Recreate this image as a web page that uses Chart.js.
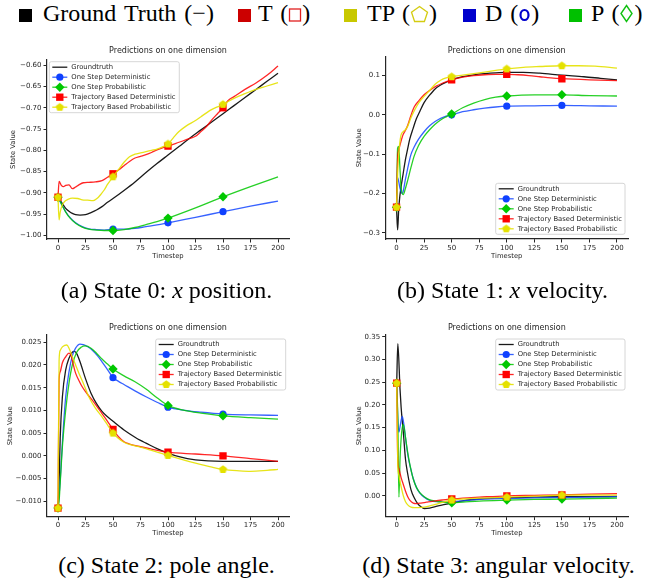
<!DOCTYPE html>
<html>
<head>
<meta charset="utf-8">
<script src="https://cdn.jsdelivr.net/npm/chart.js@4.4.1/dist/chart.umd.min.js"></script>
<style>
  body { margin: 0; width: 661px; height: 586px; background: #fff; position: relative; overflow: hidden;
         font-family: "Liberation Serif", "Times New Roman", serif; color: #000; }
  canvas { position: absolute; }
  .sw { position: absolute; top: 9px; width: 13px; height: 13px; }
  .key { position: absolute; top: 0; font-size: 24px; line-height: 26px; white-space: nowrap; word-spacing: 2px; }
  .key svg { vertical-align: -2px; }
  .cap { position: absolute; width: 331px; text-align: center; font-size: 24px; line-height: 26px; white-space: nowrap; }
</style>
</head>
<body>

<!-- key for the whole figure -->
<div class="sw" style="left:19px;background:#000"></div>
<div class="key" style="left:43px">Ground Truth (−)</div>
<div class="sw" style="left:238px;background:#cc0000"></div>
<div class="key" style="left:258px">T (<svg width="14" height="16"><rect x="1.5" y="2" width="11" height="12" fill="none" stroke="#e02020" stroke-width="1.3"/></svg>)</div>
<div class="sw" style="left:344px;background:#c8c800"></div>
<div class="key" style="left:367px">TP (<svg width="19" height="18"><polygon points="9.5,1.5 17.5,7.3 14.4,16.5 4.6,16.5 1.5,7.3" fill="none" stroke="#d4cc10" stroke-width="1.3"/></svg>)</div>
<div class="sw" style="left:463px;background:#0000cc"></div>
<div class="key" style="left:485px">D (<svg width="13" height="16"><ellipse cx="6.5" cy="8" rx="4" ry="5" fill="none" stroke="#0000cc" stroke-width="2.2"/></svg>)</div>
<div class="sw" style="left:569px;background:#00c000"></div>
<div class="key" style="left:591px">P (<svg width="15" height="19"><polygon points="7.5,1.5 13,9.5 7.5,17.5 2,9.5" fill="none" stroke="#10c010" stroke-width="1.4"/></svg>)</div>

<canvas id="cA" width="330" height="240" style="left:0;top:40px"></canvas>
<canvas id="cB" width="331" height="240" style="left:330px;top:40px"></canvas>
<canvas id="cC" width="330" height="240" style="left:0;top:300px"></canvas>
<canvas id="cD" width="331" height="240" style="left:330px;top:300px"></canvas>

<div class="cap" style="left:1px;top:277px">(a) State 0: <i>x</i> position.</div>
<div class="cap" style="left:337px;top:277px">(b) State 1: <i>x</i> velocity.</div>
<div class="cap" style="left:1px;top:552px">(c) State 2: pole angle.</div>
<div class="cap" style="left:333px;top:552px">(d) State 3: angular velocity.</div>

<script>
// shared axis values
const stepTicks = [0, 25, 50, 75, 100, 125, 150, 175, 200];
const markerSteps = [0, 50, 100, 150];
const seriesNames = ['Groundtruth', 'One Step Deterministic', 'One Step Probabilistic',
                     'Trajectory Based Deterministic', 'Trajectory Based Probabilistic'];

// State 0: cart position, [timestep, value]
const posTicks = [-1.00, -0.95, -0.90, -0.85, -0.80, -0.75, -0.70, -0.65, -0.60];
const posTruth = [[0,-0.910],[4,-0.925],[7,-0.936],[10,-0.943],[13,-0.948],[16,-0.951],[20,-0.952],[25,-0.951],
  [30,-0.946],[35,-0.940],[40,-0.932],[45,-0.922],[50,-0.913],[60,-0.894],[70,-0.874],[80,-0.852],[90,-0.831],
  [100,-0.811],[110,-0.791],[120,-0.771],[130,-0.752],[140,-0.733],[150,-0.714],[160,-0.695],[170,-0.676],
  [180,-0.657],[190,-0.638],[200,-0.619]];
const posOneDet = [[0,-0.910],[3,-0.925],[7,-0.944],[11,-0.958],[16,-0.970],[22,-0.979],[28,-0.984],[35,-0.986],
  [42,-0.987],[50,-0.985],[60,-0.985],[70,-0.983],[80,-0.979],[90,-0.975],[100,-0.970],[125,-0.957],
  [150,-0.944],[175,-0.931],[200,-0.919]];
const posOneProb = [[0,-0.910],[3,-0.925],[7,-0.945],[11,-0.959],[16,-0.971],[22,-0.980],[28,-0.985],[35,-0.987],
  [42,-0.988],[50,-0.988],[60,-0.986],[70,-0.981],[80,-0.974],[90,-0.967],[100,-0.959],[125,-0.935],
  [150,-0.909],[175,-0.885],[200,-0.862]];
const posTrajDet = [[0,-0.910],[1,-0.873],[3,-0.882],[5,-0.885],[7,-0.882],[10,-0.881],[13,-0.890],[16,-0.886],
  [19,-0.881],[23,-0.876],[28,-0.875],[34,-0.874],[40,-0.871],[45,-0.863],[50,-0.855],[55,-0.846],[60,-0.836],
  [65,-0.826],[70,-0.818],[75,-0.814],[80,-0.810],[85,-0.805],[90,-0.799],[95,-0.794],[100,-0.790],[110,-0.781],
  [120,-0.772],[125,-0.767],[130,-0.756],[135,-0.744],[140,-0.728],[145,-0.714],[150,-0.700],[153,-0.688],
  [156,-0.680],[160,-0.674],[170,-0.657],[180,-0.642],[190,-0.624],[200,-0.602]];
const posTrajProb = [[0,-0.910],[1,-0.963],[2,-0.945],[4,-0.928],[6,-0.920],[9,-0.915],[13,-0.912],[18,-0.913],
  [22,-0.916],[27,-0.917],[32,-0.918],[36,-0.912],[39,-0.903],[42,-0.893],[45,-0.880],[50,-0.862],[55,-0.845],
  [60,-0.828],[65,-0.815],[70,-0.809],[75,-0.806],[80,-0.803],[85,-0.800],[90,-0.797],[95,-0.792],[100,-0.785],
  [105,-0.770],[110,-0.756],[117,-0.742],[125,-0.730],[130,-0.721],[135,-0.712],[140,-0.704],[145,-0.698],
  [150,-0.692],[160,-0.678],[170,-0.667],[180,-0.657],[190,-0.649],[200,-0.641]];

// State 1: cart velocity
const velTicks = [-0.3, -0.2, -0.1, 0.0, 0.1];
const velTruth = [[0,-0.235],[1,-0.293],[2,-0.240],[3,-0.207],[4,-0.186],[6,-0.150],[8,-0.115],[10,-0.088],
  [12,-0.062],[15,-0.035],[18,-0.010],[21,0.008],[25,0.031],[30,0.050],[35,0.066],[40,0.076],[45,0.083],
  [50,0.089],[60,0.097],[70,0.102],[80,0.105],[90,0.107],[100,0.108],[115,0.108],[130,0.106],[150,0.101],
  [170,0.097],[185,0.093],[200,0.089]];
const velOneDet = [[0,-0.235],[1,-0.160],[2,-0.170],[3,-0.185],[5,-0.200],[6,-0.195],[8,-0.165],[10,-0.138],
  [13,-0.102],[16,-0.082],[20,-0.062],[25,-0.043],[30,-0.028],[35,-0.017],[40,-0.009],[45,-0.003],[50,0.000],
  [60,0.008],[70,0.013],[80,0.017],[90,0.020],[100,0.022],[125,0.023],[150,0.024],[175,0.023],[200,0.022]];
const velOneProb = [[0,-0.235],[1,-0.085],[2,-0.080],[3,-0.130],[4,-0.180],[6,-0.203],[8,-0.188],[10,-0.168],
  [13,-0.135],[16,-0.105],[20,-0.078],[25,-0.055],[30,-0.038],[35,-0.024],[40,-0.013],[45,-0.005],[50,0.002],
  [60,0.018],[70,0.030],[80,0.039],[90,0.045],[100,0.048],[125,0.051],[150,0.051],[175,0.049],[200,0.048]];
const velTrajDet = [[0,-0.235],[1,-0.110],[2,-0.090],[4,-0.068],[6,-0.050],[8,-0.040],[10,-0.028],[13,-0.002],
  [16,0.020],[20,0.035],[25,0.051],[30,0.062],[36,0.073],[42,0.081],[50,0.089],[60,0.096],[70,0.100],
  [80,0.102],[90,0.103],[100,0.103],[110,0.102],[120,0.100],[130,0.097],[140,0.094],[150,0.092],[175,0.089],
  [200,0.087]];
const velTrajProb = [[0,-0.235],[1,-0.150],[2,-0.100],[4,-0.052],[6,-0.043],[8,-0.038],[10,-0.030],[13,-0.008],
  [16,0.010],[20,0.030],[25,0.047],[30,0.062],[35,0.078],[40,0.088],[45,0.094],[50,0.097],[60,0.101],
  [70,0.105],[80,0.109],[90,0.113],[100,0.117],[115,0.121],[130,0.123],[150,0.125],[165,0.125],[180,0.124],
  [200,0.119]];

// State 2: pole angle
const angTicks = [-0.010, -0.005, 0.000, 0.005, 0.010, 0.015, 0.020, 0.025];
const angTruth = [[0,-0.0115],[1,-0.0060],[2,0.0040],[4,0.0130],[7,0.0189],[10,0.0215],[13,0.0228],[15,0.0230],
  [17,0.0225],[20,0.0207],[25,0.0170],[30,0.0138],[35,0.0115],[40,0.0098],[45,0.0086],[50,0.0076],[60,0.0057],
  [70,0.0041],[75,0.0034],[80,0.0028],[90,0.0016],[100,0.0006],[110,-0.0002],[125,-0.0009],[150,-0.0012],
  [175,-0.0012],[200,-0.0012]];
const angOneDet = [[0,-0.0115],[2,-0.0055],[4,0.0030],[7,0.0130],[10,0.0185],[13,0.0220],[16,0.0237],[20,0.0246],
  [23,0.0245],[27,0.0240],[31,0.0233],[36,0.0220],[40,0.0207],[45,0.0190],[50,0.0172],[55,0.0164],[60,0.0157],
  [70,0.0143],[80,0.0130],[90,0.0118],[100,0.0107],[115,0.0100],[130,0.0096],[150,0.0092],[175,0.0090],
  [200,0.0089]];
const angOneProb = [[0,-0.0115],[1,-0.0100],[2,-0.0060],[4,0.0020],[7,0.0101],[10,0.0160],[13,0.0200],[17,0.0228],
  [21,0.0239],[25,0.0242],[30,0.0237],[35,0.0226],[40,0.0213],[45,0.0202],[50,0.0191],[60,0.0176],[70,0.0163],
  [80,0.0147],[90,0.0128],[100,0.0111],[115,0.0100],[130,0.0094],[150,0.0088],[175,0.0084],[200,0.0081]];
const angTrajDet = [[0,-0.0115],[1,0.0167],[2,0.0185],[4,0.0205],[7,0.0218],[10,0.0226],[12,0.0220],[14,0.0200],
  [16,0.0182],[19,0.0166],[22,0.0152],[26,0.0138],[31,0.0123],[35,0.0110],[40,0.0093],[45,0.0076],[50,0.0058],
  [55,0.0042],[60,0.0031],[65,0.0026],[75,0.0020],[85,0.0015],[100,0.0008],[125,0.0004],[150,0.0000],
  [175,-0.0006],[200,-0.0012]];
const angTrajProb = [[0,-0.0115],[1,0.0210],[2,0.0232],[4,0.0240],[6,0.0243],[8,0.0244],[10,0.0237],[13,0.0218],
  [16,0.0200],[19,0.0182],[23,0.0160],[28,0.0130],[34,0.0105],[40,0.0086],[45,0.0068],[50,0.0050],[55,0.0038],
  [60,0.0030],[65,0.0025],[75,0.0019],[85,0.0012],[100,0.0001],[110,-0.0006],[125,-0.0016],[140,-0.0025],
  [150,-0.0030],[165,-0.0033],[175,-0.0034],[190,-0.0032],[200,-0.0030]];

// State 3: pole angular velocity
const avelTicks = [0.00, 0.05, 0.10, 0.15, 0.20, 0.25, 0.30, 0.35];
const avelTruth = [[0,0.248],[1,0.335],[3,0.235],[4,0.195],[6,0.140],[8,0.080],[10,0.048],[13,0.013],[16,-0.005],
  [19,-0.017],[22,-0.024],[25,-0.028],[30,-0.027],[35,-0.024],[40,-0.021],[50,-0.016],[60,-0.011],[75,-0.007],
  [100,-0.004],[125,-0.003],[150,-0.002],[200,-0.0015]];
const avelOneDet = [[0,0.248],[1,0.170],[2,0.140],[3,0.152],[5,0.175],[6,0.165],[7,0.148],[9,0.108],[11,0.078],
  [13,0.057],[15,0.038],[18,0.018],[21,0.006],[25,-0.003],[30,-0.010],[36,-0.013],[45,-0.0135],[50,-0.013],
  [60,-0.011],[75,-0.008],[100,-0.006],[125,-0.0045],[150,-0.0037],[175,-0.0028],[200,-0.002]];
const avelOneProb = [[0,0.248],[1,0.170],[2,-0.003],[3,0.080],[4.5,0.140],[6,0.157],[8,0.128],[10,0.095],
  [12,0.068],[15,0.037],[18,0.018],[21,0.007],[25,-0.002],[30,-0.009],[36,-0.012],[42,-0.014],[50,-0.0155],
  [60,-0.014],[75,-0.0115],[100,-0.0095],[125,-0.008],[150,-0.0072],[175,-0.006],[200,-0.005]];
const avelTrajDet = [[0,0.248],[1,0.075],[2,0.060],[3,0.050],[4,0.040],[6,0.025],[8,0.010],[10,-0.002],
  [12,-0.010],[15,-0.016],[18,-0.017],[22,-0.016],[27,-0.014],[35,-0.011],[42,-0.009],[50,-0.007],[60,-0.005],
  [75,-0.003],[100,0.000],[125,0.001],[150,0.002],[175,0.0035],[200,0.005]];
const avelTrajProb = [[0,0.248],[1,0.065],[2,0.045],[3,0.032],[4,0.020],[6,0.000],[8,-0.013],[10,-0.020],
  [13,-0.025],[16,-0.026],[20,-0.026],[25,-0.025],[30,-0.022],[35,-0.019],[42,-0.014],[50,-0.0095],[60,-0.007],
  [75,-0.005],[100,-0.003],[125,-0.0005],[150,0.0015],[175,0.0018],[200,0.0015]];

// ---- look of the lines and markers ----
const INK = '#262626';
const FONT = '"DejaVu Sans", sans-serif';
Chart.defaults.font.family = FONT;

function pentagon(r, color) {
  const s = Math.ceil(2 * r + 2);
  const c = document.createElement('canvas');
  c.width = c.height = s;
  const g = c.getContext('2d');
  g.beginPath();
  for (let i = 0; i < 5; i++) {
    const a = -Math.PI / 2 + i * 2 * Math.PI / 5;
    const px = s / 2 + r * Math.cos(a), py = s / 2 + r * Math.sin(a);
    if (i) g.lineTo(px, py); else g.moveTo(px, py);
  }
  g.closePath();
  g.fillStyle = color;
  g.fill();
  return c;
}

const looks = [
  { line: 'rgba(0,0,0,0.9)', fill: '#000', style: false, r: 0 },
  { line: 'rgba(20,70,255,0.85)', fill: 'rgb(15,65,255)', style: 'circle', r: 3.6 },
  { line: 'rgba(0,200,0,0.85)', fill: 'rgb(0,200,0)', style: 'rectRot', r: 4.7 },
  { line: 'rgba(255,0,0,0.85)', fill: 'rgb(255,0,0)', style: 'rect', r: 5.2 },
  { line: 'rgba(228,225,0,0.9)', fill: 'rgb(228,225,0)', style: pentagon(4.3, 'rgb(228,225,0)'), r: 4 }
];

function fmt(v, digits) {
  return v.toFixed(digits).replace('-', '\u2212');
}

// draws a marker by hand for the legend rows
function legendMarker(ctx, look, x, y) {
  const r = look.r;
  ctx.fillStyle = look.fill;
  if (look.style === 'circle') {
    ctx.beginPath(); ctx.arc(x, y, r, 0, Math.PI * 2); ctx.fill();
  } else if (look.style === 'rect') {
    const h = r * Math.SQRT1_2;
    ctx.fillRect(x - h, y - h, 2 * h, 2 * h);
  } else if (look.style === 'rectRot') {
    ctx.beginPath();
    ctx.moveTo(x, y - r); ctx.lineTo(x + r, y); ctx.lineTo(x, y + r); ctx.lineTo(x - r, y);
    ctx.closePath(); ctx.fill();
  } else if (look.style) {
    ctx.drawImage(look.style, x - look.style.width / 2, y - look.style.height / 2);
  }
}

// title and boxed legend, drawn over the plot
const panelDecor = {
  id: 'panelDecor',
  afterDraw(chart, args, opts) {
    const ctx = chart.ctx;
    const a = chart.chartArea;
    ctx.save();
    ctx.fillStyle = INK;
    ctx.font = '8px ' + FONT;
    ctx.textAlign = 'center';
    ctx.textBaseline = 'middle';
    ctx.fillText('Predictions on one dimension', (a.left + a.right) / 2, opts.titleY);

    const L = opts.legend;
    ctx.beginPath();
    ctx.roundRect(L.x, L.y, L.w, L.h, 2);
    ctx.fillStyle = 'rgba(255,255,255,0.8)';
    ctx.fill();
    ctx.strokeStyle = '#cccccc';
    ctx.lineWidth = 0.8;
    ctx.stroke();

    ctx.font = '6.8px ' + FONT;
    ctx.textAlign = 'left';
    seriesNames.forEach((name, i) => {
      const y = L.y + 5.5 + i * 10;
      const look = looks[i];
      const sx = L.x + 3;
      ctx.strokeStyle = look.line;
      ctx.lineWidth = 1.3;
      ctx.beginPath();
      ctx.moveTo(sx, y);
      ctx.lineTo(sx + 15, y);
      ctx.stroke();
      legendMarker(ctx, look, sx + 7.5, y);
      ctx.fillStyle = INK;
      ctx.fillText(name, L.x + 22, y);
    });
    ctx.restore();
  }
};

const panels = [
  { id: 'cA', series: [posTruth, posOneDet, posOneProb, posTrajDet, posTrajProb],
    yMin: -1.008, yMax: -0.588, yTicks: posTicks, digits: 2,
    area: { left: 47, top: 20, right: 289, bottom: 199 }, titleY: 11, xLabelY: 216, yLabelX: 13.3,
    legend: { x: 49.3, y: 21.7, w: 130, h: 51 } },
  { id: 'cB', series: [velTruth, velOneDet, velOneProb, velTrajDet, velTrajProb],
    yMin: -0.316, yMax: 0.148, yTicks: velTicks, digits: 1,
    area: { left: 55.5, top: 16.7, right: 298, bottom: 199 }, titleY: 11, xLabelY: 216, yLabelX: 29.3,
    legend: { x: 165.7, y: 143.3, w: 129.3, h: 51 } },
  { id: 'cC', series: [angTruth, angOneDet, angOneProb, angTrajDet, angTrajProb],
    yMin: -0.0134, yMax: 0.0266, yTicks: angTicks, digits: 3,
    area: { left: 47, top: 35, right: 289, bottom: 216.7 }, titleY: 28.3, xLabelY: 233.3, yLabelX: 10,
    legend: { x: 155.7, y: 39, w: 130, h: 51 } },
  { id: 'cD', series: [avelTruth, avelOneDet, avelOneProb, avelTrajDet, avelTrajProb],
    yMin: -0.046, yMax: 0.354, yTicks: avelTicks, digits: 2,
    area: { left: 55.7, top: 35, right: 298, bottom: 216.7 }, titleY: 28.3, xLabelY: 233.3, yLabelX: 29.3,
    legend: { x: 165.7, y: 39, w: 129.3, h: 51 } }
];

const LABEL_SIZE = 6.8;
const LABEL_LH = LABEL_SIZE * 1.2;

panels.forEach(p => {
  const canvas = document.getElementById(p.id);
  const W = canvas.width, H = canvas.height;

  const datasets = p.series.map((pts, i) => {
    const look = looks[i];
    return {
      label: seriesNames[i],
      data: pts.map(([x, y]) => ({ x, y })),
      borderColor: look.line,
      borderWidth: 1.3,
      backgroundColor: look.fill,
      pointBackgroundColor: look.fill,
      pointBorderColor: look.fill,
      pointBorderWidth: 0,
      pointStyle: look.style || 'circle',
      pointRadius: ctx => (look.r && markerSteps.includes(ctx.raw.x)) ? look.r : 0,
      cubicInterpolationMode: 'monotone',
      tension: 0.4,
      order: 5 - i
    };
  });

  new Chart(canvas, {
    type: 'line',
    data: { datasets },
    plugins: [panelDecor],
    options: {
      responsive: false,
      animation: false,
      events: [],
      layout: { padding: { left: 0, top: p.area.top, right: W - p.area.right, bottom: 0 } },
      plugins: {
        legend: { display: false },
        tooltip: { enabled: false },
        panelDecor: { titleY: p.titleY, legend: p.legend }
      },
      scales: {
        x: {
          type: 'linear', position: 'bottom', min: -10, max: 210,
          afterBuildTicks: s => { s.ticks = stepTicks.map(value => ({ value })); },
          afterFit: s => { s.height = H - p.area.bottom; },
          ticks: { font: { size: 7 }, color: INK, padding: 1, maxRotation: 0, autoSkip: false },
          grid: { drawOnChartArea: false, tickLength: 3.5, color: INK, lineWidth: 1 },
          border: { color: INK, width: 1.2 },
          title: { display: true, text: 'Timestep', color: INK, font: { size: LABEL_SIZE },
                   padding: { top: 0, bottom: H - p.xLabelY - LABEL_LH / 2 } }
        },
        y: {
          type: 'linear', position: 'left', min: p.yMin, max: p.yMax,
          afterBuildTicks: s => { s.ticks = p.yTicks.map(value => ({ value })); },
          afterFit: s => { s.width = p.area.left; },
          ticks: { font: { size: 7 }, color: INK, padding: 2, autoSkip: false,
                   callback: v => fmt(v, p.digits) },
          grid: { drawOnChartArea: false, tickLength: 3.5, color: INK, lineWidth: 1 },
          border: { color: INK, width: 1.2 },
          title: { display: true, text: 'State Value', color: INK, font: { size: LABEL_SIZE },
                   padding: { top: p.yLabelX - LABEL_LH / 2, bottom: 0 } }
        }
      }
    }
  });
});
</script>
</body>
</html>
